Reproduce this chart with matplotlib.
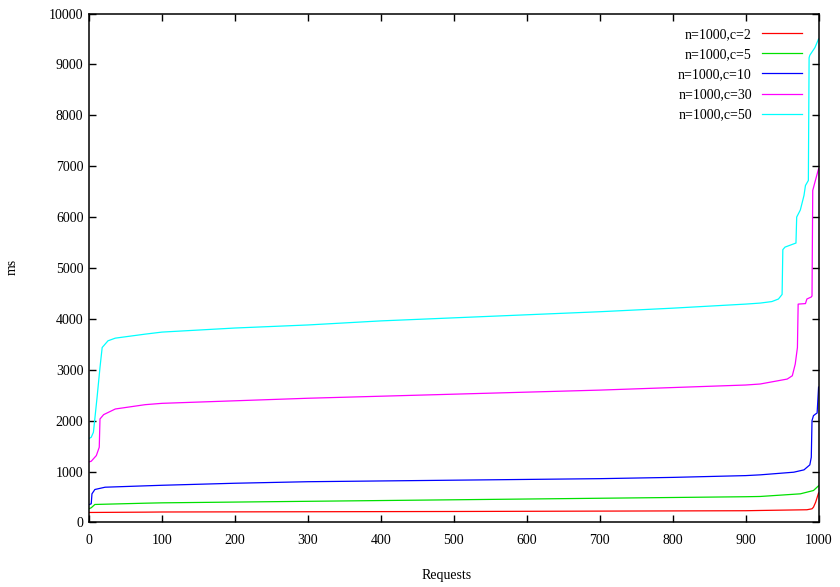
import matplotlib
matplotlib.use('Agg')
import matplotlib.pyplot as plt

# Sorted response times (ms) against request number
req_c2 = [0, 3, 77, 100, 500, 900, 920, 984, 991, 993, 996, 1000]
ms_c2 = [196, 196, 202, 205, 215, 230, 235, 249, 268, 300, 398, 580]

req_c5 = [0, 3, 8, 77, 100, 200, 300, 400, 500, 600, 700, 800, 900, 920, 975, 993, 1000]
ms_c5 = [270, 288, 353, 378, 385, 400, 415, 430, 445, 460, 475, 490, 505, 510, 562, 627, 720]

req_c10 = [0, 3, 4, 8, 22, 77, 100, 200, 300, 400, 500, 600, 700, 800, 900, 920,
           966, 980, 988, 990, 991, 993, 996, 998, 1000]
ms_c10 = [350, 366, 562, 647, 692, 719, 730, 770, 800, 815, 830, 845, 860, 885, 920, 935,
          987, 1033, 1131, 1280, 2000, 2098, 2131, 2150, 2660]

req_c30 = [0, 3, 10, 14, 15, 20, 36, 77, 100, 200, 300, 400, 500, 600, 700, 800, 900,
           920, 957, 964, 968, 971, 972, 982, 984, 990, 991, 992, 995, 1000]
ms_c30 = [1190, 1202, 1314, 1477, 2033, 2118, 2229, 2314, 2340, 2390, 2440, 2480, 2520,
          2560, 2600, 2650, 2700, 2720, 2817, 2882, 3111, 3437, 4290, 4300, 4390, 4430,
          4450, 6523, 6686, 6950]

req_c50 = [0, 3, 6, 11, 15, 18, 26, 36, 77, 100, 200, 300, 400, 500, 600, 700, 800,
           850, 900, 920, 936, 945, 950, 951, 954, 969, 970, 975, 980, 982, 986, 987,
           988, 995, 1000]
ms_c50 = [1650, 1673, 1771, 2457, 3045, 3437, 3569, 3621, 3700, 3740, 3820, 3880, 3960,
          4020, 4080, 4140, 4210, 4250, 4290, 4310, 4340, 4390, 4480, 5360, 5410, 5490,
          6000, 6140, 6425, 6620, 6720, 9130, 9180, 9330, 9500]

series = [
    ('n=1000,c=2', req_c2, ms_c2, '#ff0000'),
    ('n=1000,c=5', req_c5, ms_c5, '#00e000'),
    ('n=1000,c=10', req_c10, ms_c10, '#0000ff'),
    ('n=1000,c=30', req_c30, ms_c30, '#ff00ff'),
    ('n=1000,c=50', req_c50, ms_c50, '#00ffff'),
]

plt.rcParams['font.family'] = ['Liberation Serif', 'DejaVu Serif']
plt.rcParams['font.size'] = 10

fig = plt.figure(figsize=(8.4, 5.87), dpi=100)
ax = fig.add_axes([0.106, 0.110, 0.8685, 0.867])

for label, x, y, color in series:
    ax.plot(x, y, color=color, lw=0.9, label=label)

ax.set_xlim(0, 1000)
ax.set_ylim(0, 10000)
ax.set_xticks(range(0, 1001, 100))
ax.set_yticks(range(0, 10001, 1000))
ax.tick_params(direction='in', length=5, width=1, top=True, right=True)
ax.tick_params(axis='x', pad=8)
ax.tick_params(axis='y', pad=4)
for sp in ax.spines.values():
    sp.set_linewidth(1.1)

fig.text(12 / 840, 1 - 267 / 587, 'ms', ha='center', va='center', rotation=90)
fig.text(447 / 840, 1 - 575 / 587, 'Requests', ha='center', va='center')

leg = ax.legend(loc='upper right', bbox_to_anchor=(0.977, 0.972), frameon=False,
                markerfirst=False, handlelength=2.9, handletextpad=0.7,
                labelspacing=0.52, borderpad=0, borderaxespad=0)
# right-align the label text like gnuplot does
for col in leg._legend_handle_box.get_children():
    col.align = 'right'

fig.savefig('out.png', dpi=100)
